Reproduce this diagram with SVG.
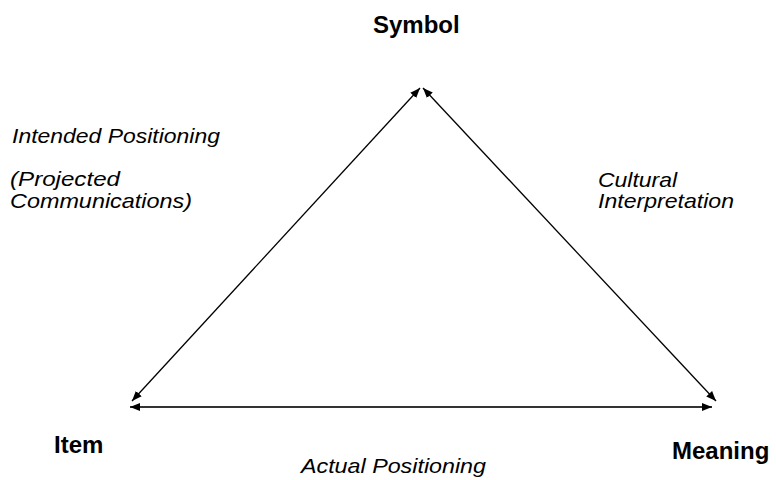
<svg xmlns="http://www.w3.org/2000/svg" width="776" height="480" viewBox="0 0 776 480">
<style>
.lbl{font-family:"Liberation Sans",Arial,sans-serif;font-size:24px;font-weight:bold;fill:#000}
.it{font-family:"Liberation Sans",Arial,sans-serif;font-size:21px;font-style:italic;fill:#000}
.ln{fill:none;stroke:#000;stroke-width:1.3}
.hz{fill:none;stroke:#333;stroke-width:2}
</style>
<defs>
<marker id="ah" viewBox="0 0 10 8" refX="10" refY="4" markerWidth="10" markerHeight="8" markerUnits="userSpaceOnUse" orient="auto-start-reverse">
<path d="M0,0 L10,4 L0,8 z" fill="#000"/>
</marker>
</defs>
<rect width="776" height="480" fill="#fff"/>
<g id="connectors">
<line class="ln" x1="420" y1="88" x2="132" y2="401" marker-start="url(#ah)" marker-end="url(#ah)"/>
<line class="ln" x1="423" y1="88" x2="716" y2="401" marker-start="url(#ah)" marker-end="url(#ah)"/>
<line class="hz" x1="130" y1="407" x2="712" y2="407" marker-start="url(#ah)" marker-end="url(#ah)"/>
</g>
<g id="symbol"><text class="lbl" x="373" y="33">Symbol</text></g>
<g id="item"><text class="lbl" x="54" y="453">Item</text></g>
<g id="meaning"><text class="lbl" x="672" y="459">Meaning</text></g>
<g id="intended"><text class="it" x="12" y="143" textLength="208" lengthAdjust="spacingAndGlyphs">Intended Positioning</text>
<text class="it" x="10" y="186" textLength="110" lengthAdjust="spacingAndGlyphs">(Projected</text>
<text class="it" x="10" y="208" textLength="182" lengthAdjust="spacingAndGlyphs">Communications)</text></g>
<g id="cultural"><text class="it" x="598" y="187" textLength="79" lengthAdjust="spacingAndGlyphs">Cultural</text>
<text class="it" x="598" y="208" textLength="136" lengthAdjust="spacingAndGlyphs">Interpretation</text></g>
<g id="actual"><text class="it" x="301" y="473" textLength="185" lengthAdjust="spacingAndGlyphs">Actual Positioning</text></g>
</svg>
